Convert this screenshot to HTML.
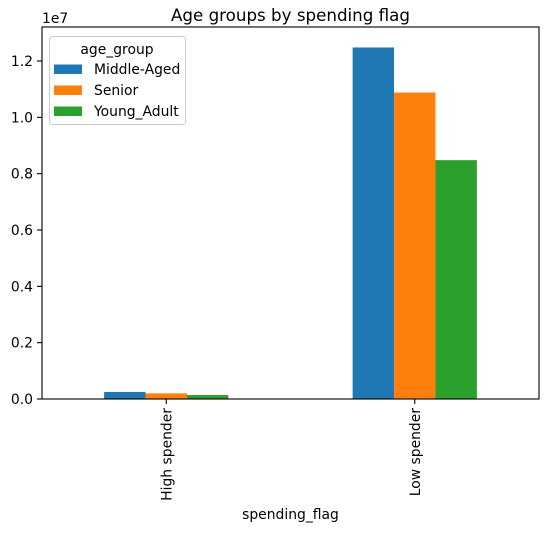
<!DOCTYPE html>
<html><head><meta charset="utf-8"><style>
body{margin:0;background:#fff;font-family:"DejaVu Sans",sans-serif;}
svg text{font-family:"DejaVu Sans","Liberation Sans",sans-serif;fill:#000;}
</style></head><body>
<svg id="chart" width="547" height="531" xmlns="http://www.w3.org/2000/svg"></svg>
<script>
const categories = ["High spender", "Low spender"];
const seriesNames = ["Middle-Aged", "Senior", "Young_Adult"];
const middleAged = [250000, 12480000];
const senior = [200000, 10880000];
const youngAdult = [140000, 8480000];
const yTicks = [0, 0.2, 0.4, 0.6, 0.8, 1.0, 1.2];
const colors = ["#1f77b4", "#ff7f0e", "#2ca02c"];

const svg = document.getElementById('chart');
const NS = "http://www.w3.org/2000/svg";
const L = 42, R = 539, T = 27, B = 399;
const FS = 13.9;
const yScale = v => B - (v / 1e7) * (B - 61) / 1.2;
const xScale = x => L + (x + 0.5) * (R - L) / 2;
function mk(tag, attrs, parent) {
  const e = document.createElementNS(NS, tag);
  for (const k in attrs) e.setAttribute(k, attrs[k]);
  (parent || svg).appendChild(e);
  return e;
}
const all = [middleAged, senior, youngAdult];
all.forEach((s, si) => {
  s.forEach((v, ci) => {
    const x0 = xScale(ci - 0.25 + si / 6);
    const r = mk('rect', {x: x0, y: yScale(v), width: (R - L) / 12, height: B - yScale(v), fill: colors[si]});
    
    
  });
});
const frame = mk('rect', {x: L, y: T, width: R - L, height: B - T, fill: 'none', stroke: '#000', 'stroke-width': 1.1});


yTicks.forEach(t => {
  const y = yScale(t * 1e7);
  mk('line', {x1: L - 5, x2: L, y1: y, y2: y, stroke: '#000', 'stroke-width': 1.1});
  const tx = mk('text', {x: L - 9, y: y + 5, 'text-anchor': 'end', 'font-size': FS});
  tx.textContent = t.toFixed(1);
  
  
});
categories.forEach((c, i) => {
  const x = xScale(i);
  mk('line', {x1: x, x2: x, y1: B, y2: B + 5, stroke: '#000', 'stroke-width': 1.1});
  const tx = mk('text', {x: 0, y: 0, 'text-anchor': 'end', 'font-size': FS, transform: `translate(${x + 5},${B + 9}) rotate(-90)`});
  tx.textContent = c;
  
  
});
const ex = mk('text', {x: L, y: 23, 'font-size': FS}); ex.textContent = '1e7';
 
const ti = mk('text', {x: (L + R) / 2, y: 21, 'text-anchor': 'middle', 'font-size': 16.7}); ti.textContent = 'Age groups by spending flag';
 
const xt = mk('text', {x: (L + R) / 2, y: 519, 'text-anchor': 'middle', 'font-size': FS}); xt.textContent = 'spending_flag';
 
const lg = mk('g', {});  
mk('rect', {x: 49.5, y: 36.5, width: 136, height: 88, rx: 3, fill: '#fff', 'fill-opacity': 0.8, stroke: '#ccc'}, lg);
const lt = mk('text', {x: 117, y: 54, 'text-anchor': 'middle', 'font-size': FS}, lg); lt.textContent = 'age_group';
seriesNames.forEach((n, i) => {
  const y = 69 + i * 21;
  mk('rect', {x: 54, y: y - 4.5, width: 28, height: 9.5, fill: colors[i]}, lg);
  const t = mk('text', {x: 94, y: y + 5, 'font-size': FS}, lg); t.textContent = n;
   
});
</script>
</body></html>
